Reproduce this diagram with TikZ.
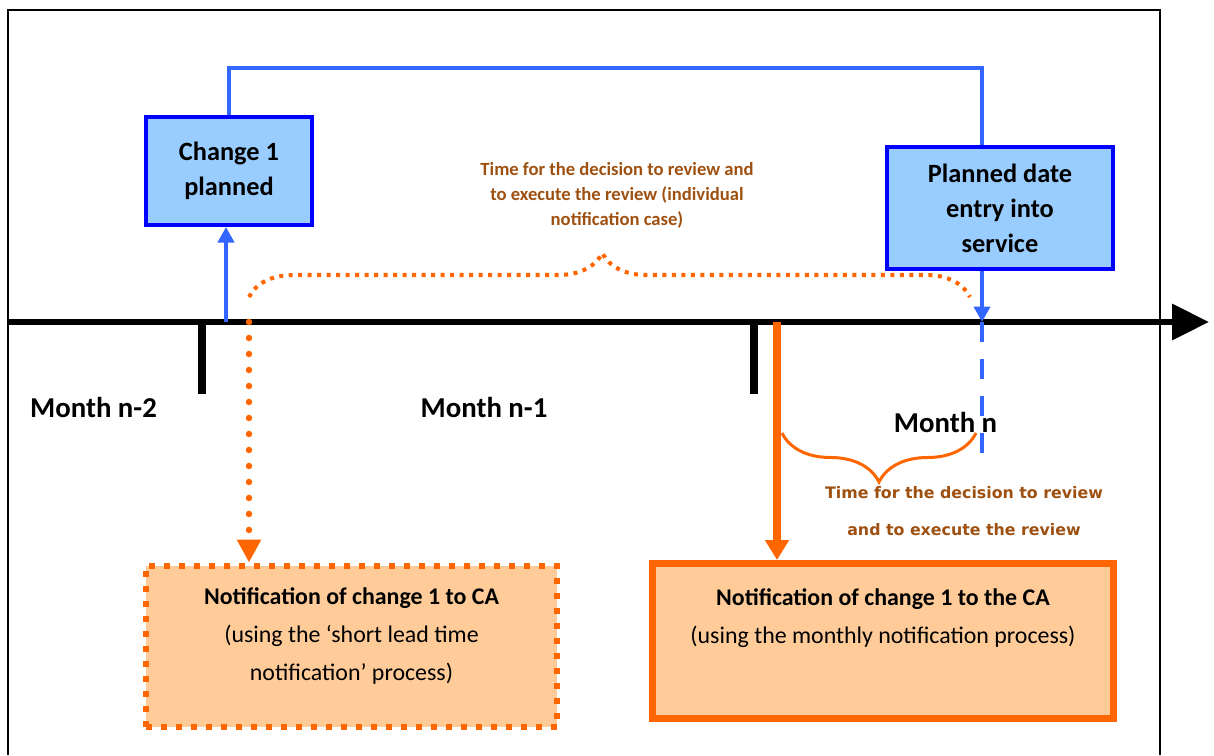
\documentclass[tikz,border=0pt]{standalone}
\usepackage{fontspec}
\setmainfont{Carlito}
\newfontfamily\verdfont{DejaVu Sans}
\usetikzlibrary{arrows.meta,decorations.pathreplacing}

\definecolor{lineblue}{HTML}{3366FF}
\definecolor{boxblue}{HTML}{0000FF}
\definecolor{fillblue}{HTML}{99CCFF}
\definecolor{orng}{HTML}{FF6600}
\definecolor{fillorng}{HTML}{FFCC99}
\definecolor{notebrown}{RGB}{158,80,16}

\begin{document}
\begin{tikzpicture}[x=0.02cm, y=-0.02cm,
    event/.style={draw=boxblue, fill=fillblue, line width=2pt, align=center, font=\fontsize{15}{20}\selectfont\bfseries},
    notif/.style={draw=orng, fill=fillorng, align=center, font=\fontsize{13.6}{21.6}\selectfont},
    dotbox/.style={line width=0.12cm, dash pattern=on 0.12cm off 0.18cm},
    month/.style={font=\fontsize{16.4}{19}\selectfont\bfseries},
    note/.style={text=notebrown, align=center, font=\fontsize{10.6}{14.2}\selectfont\bfseries},
    bline/.style={lineblue, line width=2.4pt},
    barr/.style={lineblue, line width=2.7pt, -{Triangle[length=0.31cm,width=0.32cm]}},
    oarr/.style={orng, line width=4pt, -{Triangle[length=0.4cm,width=0.46cm]}},
    odots/.style={orng, line width=0.13cm, line cap=round, dash pattern=on 0pt off 0.32cm, -{Triangle[length=0.46cm,width=0.46cm]}},
    axis/.style={line width=3.8pt, -{Triangle[length=0.74cm,width=0.7cm]}},
    tick/.style={line width=4.5pt},
    dbrace/.style={orng, line width=2.3pt, dash pattern=on 0.08cm off 0.11cm, decorate, decoration={brace, amplitude=0.88cm, aspect=0.49}},
    sbrace/.style={orng, line width=1.7pt, decorate, decoration={brace, amplitude=0.98cm}}
]
\useasboundingbox (0,0) rectangle (1214,755);

% frame
\draw[line width=0.7pt] (8,755) -- (8,10) -- (1160,10) -- (1160,755);

% points on the time axis
\coordinate (axL) at (8,322);
\coordinate (axR) at (1209,322);
\coordinate (tchg) at (226,322);
\coordinate (tshort) at (249,322);
\coordinate (tmonth) at (777,322);
\coordinate (tplan) at (982,322);
\coordinate (tend) at (982,455);

\node[event, minimum width=3.33cm, minimum height=2.17cm] (chg) at (229,171) {Change 1\\planned};
\node[event, minimum width=4.53cm, minimum height=2.45cm] (plan) at (1000,208) {Planned date\\entry into\\service};

\draw[bline] (chg.north) -- (229,68) -- (982,68) -- (plan.north -| tplan);

\draw[axis] (axL) -- (axR);
\foreach \x in {202,754}
  \draw[tick] (\x,322) -- (\x,394);

\node[month] (m2) at (93.5,407) {Month n-2};
\node[month] (m1) at (484,407) {Month n-1};
\node[month] (m0) at (945.5,422) {Month n};

\draw[barr] (tchg) -- (tchg |- chg.south);
\draw[barr] (plan.south -| tplan) -- (tplan);
\draw[bline, line width=2.7pt, dash pattern=on 0.4cm off 0.34cm] (tplan) -- (tend);

% review windows
\coordinate (bl) at (249,297);
\coordinate (br) at (970,297);
\draw[dbrace] (bl) -- (br);
\node[note] (longnote) at (617,195) {Time for the decision to review and\\to execute the review (individual\\notification case)};

\coordinate (sl) at (782,433);
\coordinate (sr) at (976,433);
\draw[sbrace] (sr) -- (sl);
\node[note, font=\verdfont\fontsize{9}{21}\selectfont\bfseries] (shortnote) at (964,511.5) {Time for the decision to review\\and to execute the review};

% notification boxes
\node[notif, dotbox, minimum width=8.22cm, minimum height=3.24cm, text depth=0.48cm] (short) at (351.5,646.5)
  {\textbf{Notification of change 1 to CA}\\(using the ‘short lead time\\notification’ process)};
\node[notif, line width=3.7pt, minimum width=9.23cm, minimum height=3.11cm, text depth=1.0cm] (monthly) at (883,641)
  {\textbf{Notification of change 1 to the CA}\\(using the monthly notification process)};

\draw[odots] (tshort) -- (short.north -| tshort);
\draw[oarr] (tmonth) -- (monthly.north -| tmonth);
\end{tikzpicture}
\end{document}
